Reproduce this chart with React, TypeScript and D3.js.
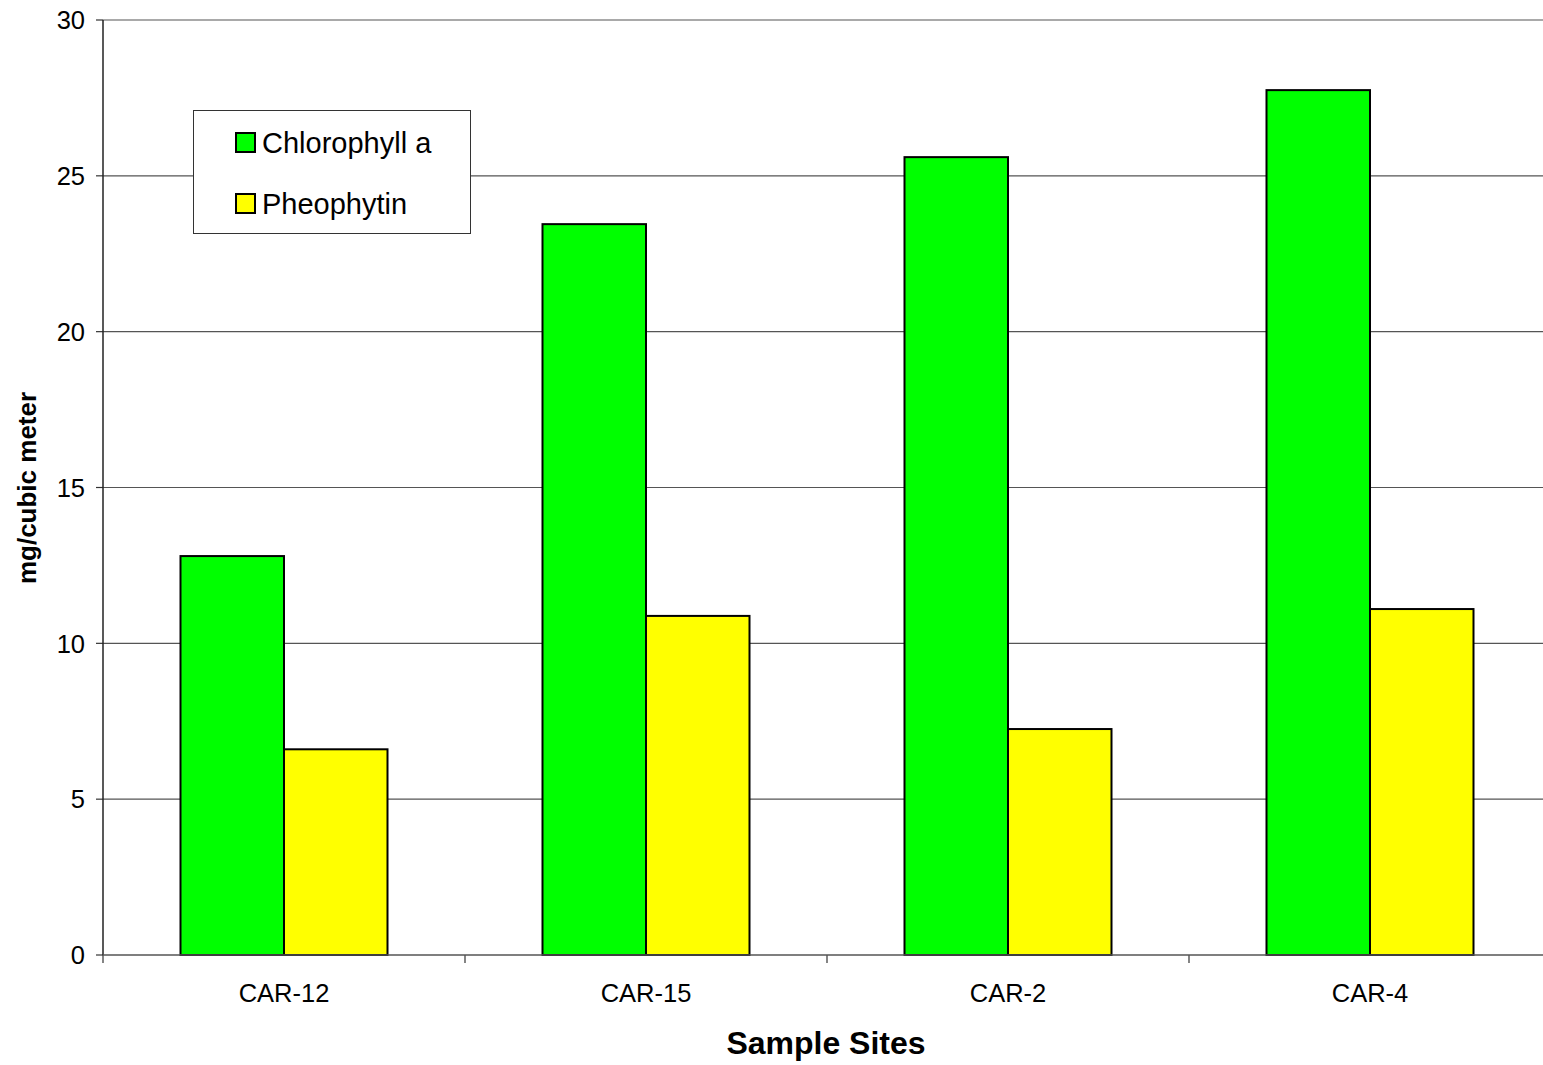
import React from "react";
import * as d3 from "d3";

const categories = ["CAR-12", "CAR-15", "CAR-2", "CAR-4"];
const seriesNames = ["Chlorophyll a", "Pheophytin"];
const chlorophyll = [12.8, 23.45, 25.6, 27.75];
const pheophytin = [6.6, 10.88, 7.25, 11.1];
const yTicks = [0, 5, 10, 15, 20, 25, 30];
const colors = ["#00ff00", "#ffff00"];

export default function App() {
  const W = 1543, H = 1065;
  const left = 103, top = 20, bottom = 955;
  const bandW = 362;
  const x = d3.scaleBand<string>().domain(categories).range([left, left + bandW * categories.length]).paddingInner(0).paddingOuter(0);
  const y = d3.scaleLinear().domain([0, 30]).range([bottom, top]);
  const barW = 103.5;
  const series = [chlorophyll, pheophytin];
  const font = "'Liberation Sans', Arial, sans-serif";
  return (
    <svg width={W} height={H} style={{ position: "absolute", left: 0, top: 0, background: "#fff" }} fontFamily={font}>
      {yTicks.map((t) => (
        <g key={t}>
          {t > 0 && <line x1={left} x2={W} y1={y(t)} y2={y(t)} stroke="#555" strokeWidth={1.2} />}
          <line x1={left - 7} x2={left} y1={y(t)} y2={y(t)} stroke="#333" strokeWidth={1.2} />
          <text x={left - 18} y={y(t)} dy="0.36em" textAnchor="end" fontSize={25.5}>{t}</text>
        </g>
      ))}
      {categories.map((c, i) => {
        const cx = (x(c) as number) + x.bandwidth() / 2;
        return (
          <g key={c}>
            {series.map((s, j) => (
              <rect key={j} x={cx - barW + j * barW} y={y(s[i])} width={barW} height={bottom - y(s[i])}
                fill={colors[j]} stroke="#000" strokeWidth={2} />
            ))}
            <text x={cx} y={993} dy="0.36em" textAnchor="middle" fontSize={25.5}>{c}</text>
          </g>
        );
      })}
      {d3.range(categories.length + 1).map((i) => (
        <line key={i} x1={left + i * bandW} x2={left + i * bandW} y1={bottom} y2={bottom + 8} stroke="#333" strokeWidth={1.2} />
      ))}
      <line x1={left} x2={left} y1={top} y2={bottom} stroke="#222" strokeWidth={1.5} />
      <line x1={left} x2={W} y1={bottom} y2={bottom} stroke="#555" strokeWidth={1.5} />
      <g>
        <rect x={193.5} y={110.5} width={277} height={123} fill="#fff" stroke="#333" strokeWidth={1} />
        {seriesNames.map((n, j) => (
          <g key={n}>
            <rect x={236} y={133 + j * 61} width={19} height={19} fill={colors[j]} stroke="#000" strokeWidth={2} />
            <text x={262} y={142.5 + j * 61} dy="0.36em" fontSize={29}>{n}</text>
          </g>
        ))}
      </g>
      <text x={826} y={1042} dy="0.36em" textAnchor="middle" fontSize={32} fontWeight="bold">Sample Sites</text>
      <text transform={`translate(27,488) rotate(-90)`} dy="0.36em" textAnchor="middle" fontSize={26} fontWeight="bold">mg/cubic meter</text>
    </svg>
  );
}
